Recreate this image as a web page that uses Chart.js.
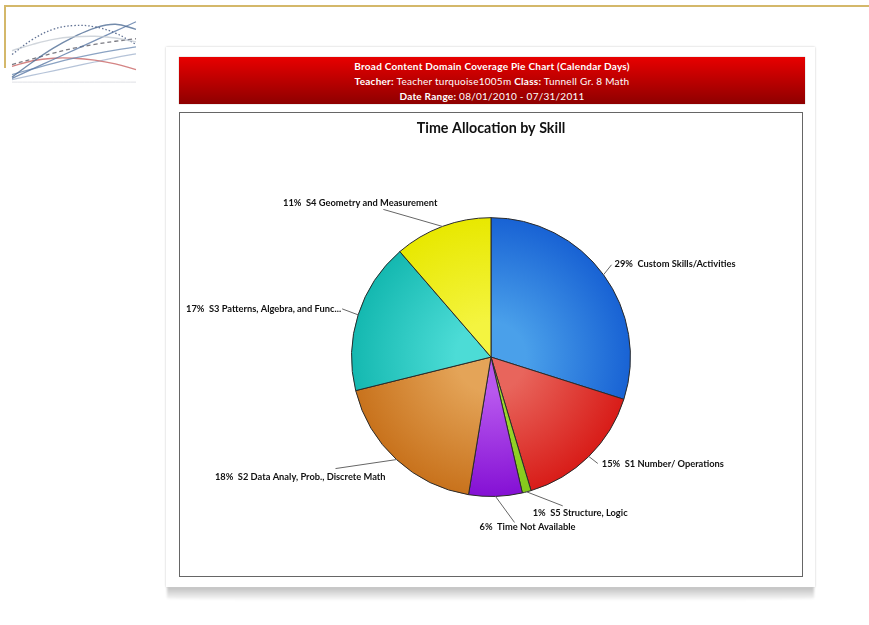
<!DOCTYPE html>
<html>
<head>
<meta charset="utf-8">
<script src="https://cdn.jsdelivr.net/npm/chart.js@4/dist/chart.umd.min.js"></script>
<style>
  body { margin:0; background:#fff; width:869px; height:625px; overflow:hidden; position:relative; font-family:Lato, "Open Sans", sans-serif; }
  .goldTop { position:absolute; left:4px; top:5px; width:865px; height:2px; background:#d4b86a; }
  .goldLeft { position:absolute; left:4px; top:5px; width:2px; height:63px; background:#d4b86a; }
  #logo { position:absolute; left:10px; top:16px; width:128px; height:70px; }
  .card { position:absolute; left:166px; top:47px; width:649px; height:540px; background:#fff;
          box-shadow:0 0 2px rgba(0,0,0,0.22); }
  .cardShadow { position:absolute; left:167px; top:587px; width:647px; height:14px;
          background:linear-gradient(to bottom, rgba(0,0,0,0.25), rgba(0,0,0,0.05) 80%, rgba(0,0,0,0));
          border-radius:0 0 50% 50% / 0 0 20% 20%; filter:blur(1.2px); }
  .header { position:absolute; left:179px; top:57px; width:626px; height:47px;
            background:linear-gradient(to bottom, #e80000, #8e0000); color:#fff; text-align:center;
            font-size:10px; letter-spacing:0.25px; line-height:15px; box-shadow:0 0 1px rgba(0,0,0,0.4);
            -webkit-font-smoothing:antialiased; }
  .header .l1 { font-weight:bold; padding-top:2px; }
  .header b { font-weight:bold; }
  .box { position:absolute; left:179px; top:112px; width:622px; height:463px; border:1px solid #666; background:#fff; }
  #pie { display:block; }
</style>
</head>
<body>
<div class="goldTop"></div>
<div class="goldLeft"></div>
<canvas id="logo" width="128" height="70"></canvas>
<div class="cardShadow"></div>
<div class="card"></div>
<div class="header">
  <div class="l1">Broad Content Domain Coverage Pie Chart (Calendar Days)</div>
  <div><b>Teacher:</b> Teacher turquoise1005m <b>Class:</b> Tunnell Gr. 8 Math</div>
  <div><b>Date Range:</b> 08/01/2010 - 07/31/2011</div>
</div>
<div class="box"><canvas id="pie" width="622" height="463"></canvas></div>

<script>
// skills and share of calendar days (%)
const skills = ["Custom Skills/Activities", "S1 Number/ Operations", "S5 Structure, Logic",
  "Time Not Available", "S2 Data Analy, Prob., Discrete Math", "S3 Patterns, Algebra, and Func...",
  "S4 Geometry and Measurement"];
const percents = [29, 15, 1, 6, 18, 17, 11];

// slice colours: [inner, outer] for the radial shading
const innerColors = ["#4aa0ea", "#e8655c", "#a0dc30", "#b858ee", "#e4a458", "#4cdcd6", "#f4f440"];
const outerColors = ["#1862d4", "#d81c18", "#84c81c", "#8410d4", "#c8721c", "#14b8b0", "#e8e800"];

// label placement relative to the slice edge point
const leaderEnd = [[8,-10],[9,7],[36,14],[19,26],[-61,9],[-16,-6],[-59,-17]];
const textPos   = [[11,-11],[13,8],[6,21],[-16,31],[-11,17],[-17,-6],[-5,-23]];
const textAlign = ["left","left","left","left","right","right","right"];

function shade(ctx, i){
  const area = ctx.chart.chartArea;
  if(!area) return outerColors[i];
  const cx = (area.left + area.right) / 2;
  const cy = (area.top + area.bottom) / 2;
  const r = Math.min(area.right - area.left, area.bottom - area.top) / 2;
  const g = ctx.chart.ctx.createRadialGradient(cx, cy, 0, cx, cy, r);
  g.addColorStop(0.25, innerColors[i]);
  g.addColorStop(1, outerColors[i]);
  return g;
}

const sliceLabels = {
  id:'sliceLabels',
  afterDatasetsDraw(chart){
    const c = chart.ctx;
    const arcs = chart.getDatasetMeta(0).data;
    c.save();
    c.font = "bold 9.3px Lato, 'Open Sans', sans-serif";
    c.textBaseline = "middle";
    arcs.forEach((arc, i) => {
      const p = arc.getProps(['x','y','startAngle','endAngle','outerRadius'], true);
      const mid = (p.startAngle + p.endAngle) / 2;
      const ax = p.x + Math.cos(mid) * p.outerRadius;
      const ay = p.y + Math.sin(mid) * p.outerRadius;
      c.strokeStyle = "#666";
      c.lineWidth = 1;
      c.beginPath();
      c.moveTo(ax, ay);
      c.lineTo(ax + leaderEnd[i][0], ay + leaderEnd[i][1]);
      c.stroke();
      c.fillStyle = "#111";
      c.textAlign = textAlign[i];
      c.fillText(percents[i] + "%  " + skills[i], ax + textPos[i][0], ay + textPos[i][1]);
    });
    c.restore();
  }
};

new Chart(document.getElementById('pie'), {
  type:'pie',
  data:{
    labels: skills,
    datasets:[{
      data: percents,
      backgroundColor: (ctx) => shade(ctx, ctx.dataIndex),
      borderColor: "#2a2a2a",
      borderWidth: 1
    }]
  },
  options:{
    responsive:false,
    animation:false,
    layout:{ padding:{ top:0, bottom:79, left:0, right:0 } },
    plugins:{
      legend:{ display:false },
      tooltip:{ enabled:false },
      title:{
        display:true,
        text:"Time Allocation by Skill",
        color:"#111",
        font:{ family:"Lato, 'Open Sans', sans-serif", size:14.3, weight:"bold", lineHeight:1.2 },
        padding:{ top:7, bottom:80 }
      }
    }
  },
  plugins:[sliceLabels]
});

// header logo: a bundle of faint curves
const logoX = [0, 1, 2, 3, 4, 5, 6];
const curveDotted = [4.2, 6.6, 8.2, 8.8, 8.6, 7.6, 5.8];
const curveArc    = [0.6, 3.0, 5.2, 7.0, 8.4, 9.0, 8.2];
const curveStraight = [0.4, 1.9, 3.4, 4.9, 6.4, 7.9, 9.4];
const curveDashed = [2.6, 3.5, 4.4, 5.2, 5.8, 6.3, 6.7];
const curveLow    = [1.0, 1.9, 2.8, 3.6, 4.3, 4.9, 5.4];
const curveRed    = [2.3, 3.2, 3.6, 3.6, 3.3, 2.7, 1.8];
const curveLight  = [4.8, 5.8, 6.6, 7.0, 7.1, 6.8, 6.2];
const curveFaint  = [0.2, 0.9, 1.6, 2.3, 3.0, 3.7, 4.3];
const curveBase   = [-0.2, -0.2, -0.2, -0.2, -0.2, -0.2, -0.2];

function curve(data, color, dash, width){
  return { data: data, borderColor: color, borderDash: dash, borderWidth: width,
           pointRadius: 0, tension: 0.4, fill: false };
}

new Chart(document.getElementById('logo'), {
  type:'line',
  data:{
    labels: logoX,
    datasets:[
      curve(curveBase, "rgba(215,218,222,0.8)", [], 1),
      curve(curveLight, "rgba(190,196,205,0.7)", [], 1.5),
      curve(curveDotted, "rgba(70,90,130,0.85)", [1.5,2], 1.3),
      curve(curveArc, "rgba(80,110,150,0.8)", [], 1.4),
      curve(curveStraight, "rgba(90,120,165,0.8)", [], 1.3),
      curve(curveDashed, "rgba(90,90,100,0.8)", [4,3], 1.3),
      curve(curveLow, "rgba(110,140,180,0.8)", [], 1.3),
      curve(curveRed, "rgba(205,110,110,0.85)", [], 1.3),
      curve(curveFaint, "rgba(150,170,200,0.7)", [], 1.2)
    ]
  },
  options:{
    responsive:false,
    animation:false,
    layout:{ padding:{ left:2, right:2, top:2, bottom:2 } },
    scales:{
      x:{ display:false },
      y:{ display:false, min:-0.5, max:10 }
    },
    plugins:{ legend:{ display:false }, tooltip:{ enabled:false } }
  }
});
</script>
</body>
</html>
